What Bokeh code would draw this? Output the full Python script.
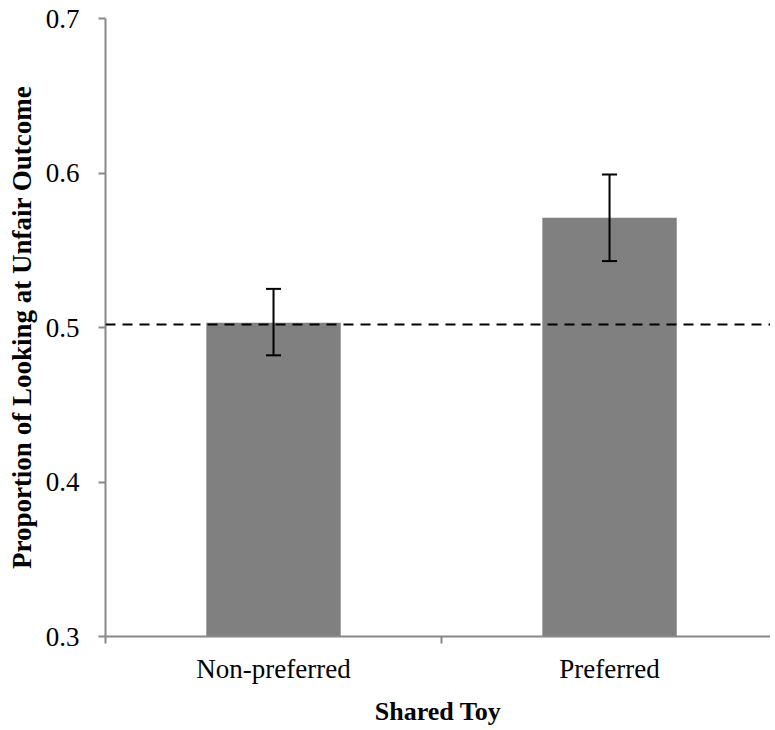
from bokeh.plotting import figure
from bokeh.models import (ColumnDataSource, Range1d, FixedTicker, Whisker, TeeHead, Span)
from bokeh.embed import file_html
from bokeh.resources import INLINE

# ---- data ----
categories = ["Non-preferred", "Preferred"]
proportions = [0.503, 0.571]
err_upper = [0.525, 0.599]
err_lower = [0.482, 0.543]
reference_level = 0.502
y_ticks = [0.3, 0.4, 0.5, 0.6, 0.7]
y_tick_labels = ["0.3", "0.4", "0.5", "0.6", "0.7"]

positions = [i + 0.5 for i in range(len(categories))]
boundaries = [float(i) for i in range(len(categories) + 1)]

src = ColumnDataSource(dict(x=positions, top=proportions, upper=err_upper, lower=err_lower))

FONT = "Liberation Serif"
AXIS_COLOR = "#888888"

p = figure(width=770, height=728, output_backend="svg", toolbar_location=None,
           x_range=Range1d(0, 1.979), y_range=Range1d(0.3, 0.7),
           min_border_top=18, min_border_right=0, min_border_left=105, min_border_bottom=92)
p.outline_line_color = None
p.xgrid.visible = False
p.ygrid.visible = False
p.background_fill_color = "white"

p.vbar(x="x", top="top", bottom=0.3, width=0.4, source=src,
       fill_color="#808080", line_color=None)

p.add_layout(Span(location=reference_level, dimension="width", line_color="black",
                  line_width=2, line_dash="10 7", level="annotation"))

w = Whisker(base="x", upper="upper", lower="lower", source=src,
            line_color="black", line_width=2, level="annotation",
            upper_head=TeeHead(size=15, line_color="black", line_width=2),
            lower_head=TeeHead(size=15, line_color="black", line_width=2))
p.add_layout(w)

# x axis
xa = p.xaxis[0]
xa.ticker = FixedTicker(ticks=positions, minor_ticks=boundaries)
xa.major_label_overrides = {pos: c for pos, c in zip(positions, categories)}
xa.major_tick_line_color = None
xa.minor_tick_line_color = AXIS_COLOR
xa.minor_tick_line_width = 2
xa.minor_tick_out = 7
xa.minor_tick_in = 0
xa.axis_line_color = AXIS_COLOR
xa.axis_line_width = 2
xa.major_label_text_font = FONT
xa.major_label_text_font_size = "27px"
xa.major_label_text_color = "black"
xa.major_label_standoff = 10
xa.axis_label = "Shared Toy"
xa.axis_label_text_font = FONT
xa.axis_label_text_font_style = "bold"
xa.axis_label_text_font_size = "26px"
xa.axis_label_text_color = "black"
xa.axis_label_standoff = 10

# y axis
ya = p.yaxis[0]
ya.ticker = FixedTicker(ticks=y_ticks)
ya.major_label_overrides = {t: l for t, l in zip(y_ticks, y_tick_labels)}
ya.minor_tick_line_color = None
ya.major_tick_line_color = AXIS_COLOR
ya.major_tick_line_width = 2
ya.major_tick_out = 7
ya.major_tick_in = 0
ya.axis_line_color = AXIS_COLOR
ya.axis_line_width = 2
ya.major_label_text_font = FONT
ya.major_label_text_font_size = "27px"
ya.major_label_text_color = "black"
ya.major_label_standoff = 19
ya.axis_label = "Proportion of Looking at Unfair Outcome"
ya.axis_label_text_font = FONT
ya.axis_label_text_font_style = "bold"
ya.axis_label_text_font_size = "27px"
ya.axis_label_text_color = "black"
ya.axis_label_standoff = 6

open("out.html", "w").write(file_html(p, INLINE))
